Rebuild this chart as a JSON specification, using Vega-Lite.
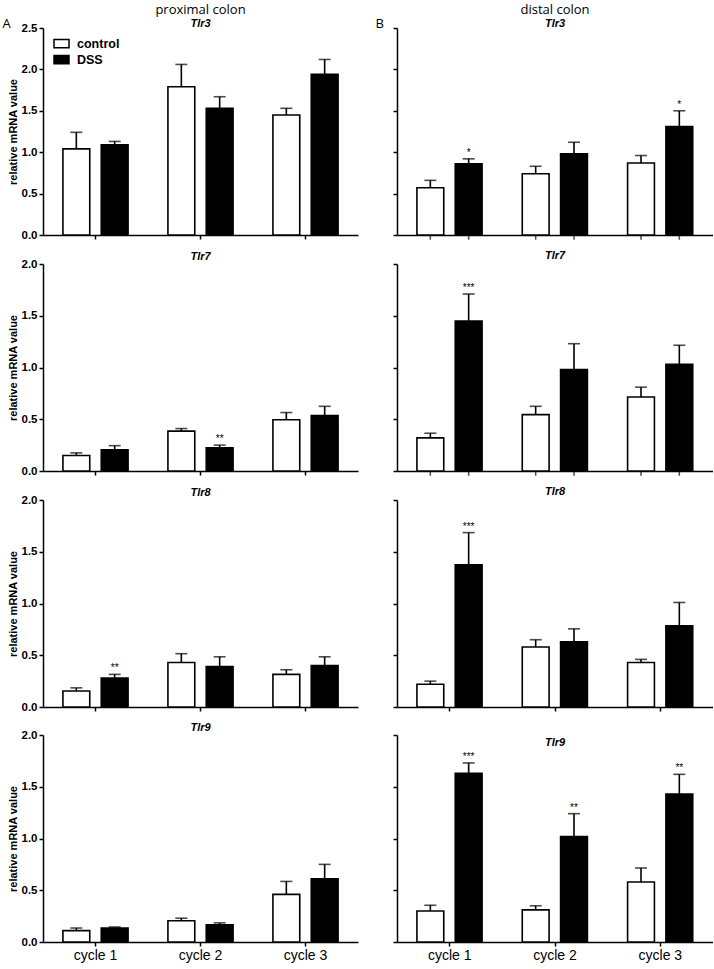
{
  "$schema": "https://vega.github.io/schema/vega-lite/v6.json",
  "padding": {"left": 2, "top": 4, "right": 0, "bottom": 4},
  "background": "white",
  "config": {
    "view": {"stroke": null},
    "axis": {"domainColor": "black", "tickColor": "black", "domainWidth": 1.5, "tickWidth": 1.5, "tickSize": 4, "labelColor": "black", "titleColor": "black", "grid": false},
    "title": {"color": "black", "subtitleColor": "black"}
  },
  "data": {"values": [
    {"region": "proximal", "gene": "Tlr3", "cycle": "cycle 1", "group": "control", "value": 1.04, "err": 1.24, "sig": ""},
    {"region": "proximal", "gene": "Tlr3", "cycle": "cycle 1", "group": "DSS", "value": 1.09, "err": 1.13, "sig": ""},
    {"region": "proximal", "gene": "Tlr3", "cycle": "cycle 2", "group": "control", "value": 1.79, "err": 2.06, "sig": ""},
    {"region": "proximal", "gene": "Tlr3", "cycle": "cycle 2", "group": "DSS", "value": 1.53, "err": 1.67, "sig": ""},
    {"region": "proximal", "gene": "Tlr3", "cycle": "cycle 3", "group": "control", "value": 1.45, "err": 1.53, "sig": ""},
    {"region": "proximal", "gene": "Tlr3", "cycle": "cycle 3", "group": "DSS", "value": 1.94, "err": 2.12, "sig": ""},
    {"region": "distal", "gene": "Tlr3", "cycle": "cycle 1", "group": "control", "value": 0.57, "err": 0.66, "sig": ""},
    {"region": "distal", "gene": "Tlr3", "cycle": "cycle 1", "group": "DSS", "value": 0.86, "err": 0.92, "sig": "*"},
    {"region": "distal", "gene": "Tlr3", "cycle": "cycle 2", "group": "control", "value": 0.74, "err": 0.83, "sig": ""},
    {"region": "distal", "gene": "Tlr3", "cycle": "cycle 2", "group": "DSS", "value": 0.98, "err": 1.12, "sig": ""},
    {"region": "distal", "gene": "Tlr3", "cycle": "cycle 3", "group": "control", "value": 0.87, "err": 0.96, "sig": ""},
    {"region": "distal", "gene": "Tlr3", "cycle": "cycle 3", "group": "DSS", "value": 1.31, "err": 1.5, "sig": "*"},
    {"region": "proximal", "gene": "Tlr7", "cycle": "cycle 1", "group": "control", "value": 0.15, "err": 0.175, "sig": ""},
    {"region": "proximal", "gene": "Tlr7", "cycle": "cycle 1", "group": "DSS", "value": 0.205, "err": 0.245, "sig": ""},
    {"region": "proximal", "gene": "Tlr7", "cycle": "cycle 2", "group": "control", "value": 0.385, "err": 0.41, "sig": ""},
    {"region": "proximal", "gene": "Tlr7", "cycle": "cycle 2", "group": "DSS", "value": 0.225, "err": 0.25, "sig": "**"},
    {"region": "proximal", "gene": "Tlr7", "cycle": "cycle 3", "group": "control", "value": 0.495, "err": 0.565, "sig": ""},
    {"region": "proximal", "gene": "Tlr7", "cycle": "cycle 3", "group": "DSS", "value": 0.535, "err": 0.625, "sig": ""},
    {"region": "distal", "gene": "Tlr7", "cycle": "cycle 1", "group": "control", "value": 0.32, "err": 0.365, "sig": ""},
    {"region": "distal", "gene": "Tlr7", "cycle": "cycle 1", "group": "DSS", "value": 1.45, "err": 1.71, "sig": "***"},
    {"region": "distal", "gene": "Tlr7", "cycle": "cycle 2", "group": "control", "value": 0.545, "err": 0.625, "sig": ""},
    {"region": "distal", "gene": "Tlr7", "cycle": "cycle 2", "group": "DSS", "value": 0.98, "err": 1.23, "sig": ""},
    {"region": "distal", "gene": "Tlr7", "cycle": "cycle 3", "group": "control", "value": 0.715, "err": 0.81, "sig": ""},
    {"region": "distal", "gene": "Tlr7", "cycle": "cycle 3", "group": "DSS", "value": 1.03, "err": 1.215, "sig": ""},
    {"region": "proximal", "gene": "Tlr8", "cycle": "cycle 1", "group": "control", "value": 0.155, "err": 0.185, "sig": ""},
    {"region": "proximal", "gene": "Tlr8", "cycle": "cycle 1", "group": "DSS", "value": 0.28, "err": 0.315, "sig": "**"},
    {"region": "proximal", "gene": "Tlr8", "cycle": "cycle 2", "group": "control", "value": 0.43, "err": 0.515, "sig": ""},
    {"region": "proximal", "gene": "Tlr8", "cycle": "cycle 2", "group": "DSS", "value": 0.39, "err": 0.485, "sig": ""},
    {"region": "proximal", "gene": "Tlr8", "cycle": "cycle 3", "group": "control", "value": 0.315, "err": 0.36, "sig": ""},
    {"region": "proximal", "gene": "Tlr8", "cycle": "cycle 3", "group": "DSS", "value": 0.4, "err": 0.485, "sig": ""},
    {"region": "distal", "gene": "Tlr8", "cycle": "cycle 1", "group": "control", "value": 0.22, "err": 0.25, "sig": ""},
    {"region": "distal", "gene": "Tlr8", "cycle": "cycle 1", "group": "DSS", "value": 1.375, "err": 1.685, "sig": "***"},
    {"region": "distal", "gene": "Tlr8", "cycle": "cycle 2", "group": "control", "value": 0.58, "err": 0.65, "sig": ""},
    {"region": "distal", "gene": "Tlr8", "cycle": "cycle 2", "group": "DSS", "value": 0.63, "err": 0.755, "sig": ""},
    {"region": "distal", "gene": "Tlr8", "cycle": "cycle 3", "group": "control", "value": 0.43, "err": 0.46, "sig": ""},
    {"region": "distal", "gene": "Tlr8", "cycle": "cycle 3", "group": "DSS", "value": 0.785, "err": 1.01, "sig": ""},
    {"region": "proximal", "gene": "Tlr9", "cycle": "cycle 1", "group": "control", "value": 0.11, "err": 0.135, "sig": ""},
    {"region": "proximal", "gene": "Tlr9", "cycle": "cycle 1", "group": "DSS", "value": 0.135, "err": 0.145, "sig": ""},
    {"region": "proximal", "gene": "Tlr9", "cycle": "cycle 2", "group": "control", "value": 0.205, "err": 0.23, "sig": ""},
    {"region": "proximal", "gene": "Tlr9", "cycle": "cycle 2", "group": "DSS", "value": 0.165, "err": 0.185, "sig": ""},
    {"region": "proximal", "gene": "Tlr9", "cycle": "cycle 3", "group": "control", "value": 0.46, "err": 0.585, "sig": ""},
    {"region": "proximal", "gene": "Tlr9", "cycle": "cycle 3", "group": "DSS", "value": 0.61, "err": 0.75, "sig": ""},
    {"region": "distal", "gene": "Tlr9", "cycle": "cycle 1", "group": "control", "value": 0.3, "err": 0.355, "sig": ""},
    {"region": "distal", "gene": "Tlr9", "cycle": "cycle 1", "group": "DSS", "value": 1.63, "err": 1.73, "sig": "***"},
    {"region": "distal", "gene": "Tlr9", "cycle": "cycle 2", "group": "control", "value": 0.31, "err": 0.35, "sig": ""},
    {"region": "distal", "gene": "Tlr9", "cycle": "cycle 2", "group": "DSS", "value": 1.02, "err": 1.24, "sig": "**"},
    {"region": "distal", "gene": "Tlr9", "cycle": "cycle 3", "group": "control", "value": 0.58, "err": 0.715, "sig": ""},
    {"region": "distal", "gene": "Tlr9", "cycle": "cycle 3", "group": "DSS", "value": 1.43, "err": 1.62, "sig": "**"}
  ]},
  "resolve": {"scale": {"fill": "independent"}, "legend": {"fill": "independent"}},
  "columns": 2,
  "spacing": {"row": 9, "column": 17},
  "concat": [
    {
      "width": 315, "height": 207,
      "title": {"text": "proximal colon", "subtitle": "Tlr3", "frame": "group", "anchor": "middle", "font": "Open Sans", "fontSize": 13, "fontWeight": "normal", "subtitleFont": "Liberation Sans", "subtitleFontStyle": "italic", "subtitleFontWeight": "bold", "subtitleFontSize": 11, "subtitlePadding": 1, "offset": -12},
      "transform": [{"filter": "datum.region === 'proximal' && datum.gene === 'Tlr3'"}],
      "encoding": {
        "x": {"field": "cycle", "type": "nominal", "scale": {"paddingInner": 0, "paddingOuter": 0}, "axis": {"title": "A", "labels": false, "titleX": -41, "titleY": -208, "titleAlign": "left", "titleBaseline": "alphabetic", "titleAngle": 0, "titleFont": "Open Sans", "titleFontSize": 13, "titleFontWeight": "normal"}},
        "xOffset": {"field": "group", "type": "nominal", "sort": ["control", "DSS"], "scale": {"paddingInner": 0.3, "paddingOuter": 0.52}}
      },
      "layer": [
        {"mark": {"type": "bar", "stroke": "black", "strokeWidth": 1.6},
         "encoding": {
           "y": {"field": "value", "type": "quantitative", "title": "relative mRNA value", "scale": {"domain": [0, 2.5], "nice": false}, "axis": {"values": [0, 0.5, 1, 1.5, 2, 2.5], "format": ".1f", "labelFont": "Liberation Sans", "labelFontWeight": "bold", "labelFontSize": 11.5, "titleFont": "Liberation Sans", "titleFontWeight": "bold", "titleFontSize": 11, "titlePadding": 3, "labelPadding": 2}},
           "fill": {"field": "group", "type": "nominal", "scale": {"domain": ["control", "DSS"], "range": ["white", "black"]}, "legend": {"orient": "none", "legendX": 10, "legendY": 7, "title": null, "symbolType": "M-1,-0.55H1V0.55H-1Z", "symbolSize": 225, "symbolStrokeColor": "black", "symbolStrokeWidth": 1.5, "labelFont": "Liberation Sans", "labelFontWeight": "bold", "labelFontSize": 12.5, "labelColor": "black", "rowPadding": 0, "labelOffset": 7}}
         }},
        {"mark": {"type": "rule", "color": "black", "strokeWidth": 1.6}, "encoding": {"y": {"field": "value", "type": "quantitative", "title": "relative mRNA value"}, "y2": {"field": "err"}}},
        {"mark": {"type": "tick", "color": "black", "thickness": 1.6, "size": 12, "orient": "horizontal"}, "encoding": {"y": {"field": "err", "type": "quantitative", "title": "relative mRNA value"}}},
        {"mark": {"type": "text", "dy": -3, "fontSize": 10, "baseline": "alphabetic", "font": "Liberation Sans", "color": "black"}, "encoding": {"y": {"field": "err", "type": "quantitative", "title": "relative mRNA value"}, "text": {"field": "sig"}}}
      ]
    },
    {
      "width": 316, "height": 207,
      "title": {"text": "distal colon", "subtitle": "Tlr3", "frame": "group", "anchor": "middle", "font": "Open Sans", "fontSize": 13, "fontWeight": "normal", "subtitleFont": "Liberation Sans", "subtitleFontStyle": "italic", "subtitleFontWeight": "bold", "subtitleFontSize": 11, "subtitlePadding": 1, "offset": -12},
      "transform": [{"filter": "datum.region === 'distal' && datum.gene === 'Tlr3'"}],
      "encoding": {
        "x": {"field": "cycle", "type": "nominal", "scale": {"paddingInner": 0, "paddingOuter": 0}, "axis": {"title": "B", "labels": false, "ticks": false, "titleX": -22, "titleY": -208, "titleAlign": "left", "titleBaseline": "alphabetic", "titleAngle": 0, "titleFont": "Open Sans", "titleFontSize": 13, "titleFontWeight": "normal"}},
        "xOffset": {"field": "group", "type": "nominal", "sort": ["control", "DSS"], "scale": {"paddingInner": 0.32, "paddingOuter": 0.5}}
      },
      "layer": [
        {"mark": {"type": "bar", "stroke": "black", "strokeWidth": 1.6},
         "encoding": {
           "y": {"field": "value", "type": "quantitative", "title": null, "scale": {"domain": [0, 2.5], "nice": false}, "axis": {"values": [0, 0.5, 1, 1.5, 2, 2.5], "labels": false, "title": null}},
           "fill": {"field": "group", "type": "nominal", "scale": {"domain": ["control", "DSS"], "range": ["white", "black"]}, "legend": null}
         }},
        {"mark": {"type": "rule", "color": "black", "strokeWidth": 1.6}, "encoding": {"y": {"field": "value", "type": "quantitative", "title": null}, "y2": {"field": "err"}}},
        {"mark": {"type": "tick", "color": "black", "thickness": 1.6, "size": 12, "orient": "horizontal"}, "encoding": {"y": {"field": "err", "type": "quantitative", "title": null}}},
        {"mark": {"type": "tick", "color": "black", "thickness": 1.5, "size": 4, "orient": "vertical", "yOffset": 2.75}, "encoding": {"y": {"datum": 0, "type": "quantitative", "title": null}}},
        {"mark": {"type": "text", "dy": -3, "fontSize": 10, "baseline": "alphabetic", "font": "Liberation Sans", "color": "black"}, "encoding": {"y": {"field": "err", "type": "quantitative", "title": null}, "text": {"field": "sig"}}}
      ]
    },
    {
      "width": 315, "height": 207,
      "title": {"text": "Tlr7", "frame": "group", "anchor": "middle", "font": "Liberation Sans", "fontStyle": "italic", "fontWeight": "bold", "fontSize": 11, "offset": -4},
      "transform": [{"filter": "datum.region === 'proximal' && datum.gene === 'Tlr7'"}],
      "encoding": {
        "x": {"field": "cycle", "type": "nominal", "scale": {"paddingInner": 0, "paddingOuter": 0}, "axis": {"title": null, "labels": false}},
        "xOffset": {"field": "group", "type": "nominal", "sort": ["control", "DSS"], "scale": {"paddingInner": 0.3, "paddingOuter": 0.52}}
      },
      "layer": [
        {"mark": {"type": "bar", "stroke": "black", "strokeWidth": 1.6},
         "encoding": {
           "y": {"field": "value", "type": "quantitative", "title": "relative mRNA value", "scale": {"domain": [0, 2], "nice": false}, "axis": {"values": [0, 0.5, 1, 1.5, 2], "format": ".1f", "labelFont": "Liberation Sans", "labelFontWeight": "bold", "labelFontSize": 11.5, "titleFont": "Liberation Sans", "titleFontWeight": "bold", "titleFontSize": 11, "titlePadding": 3, "labelPadding": 2}},
           "fill": {"field": "group", "type": "nominal", "scale": {"domain": ["control", "DSS"], "range": ["white", "black"]}, "legend": null}
         }},
        {"mark": {"type": "rule", "color": "black", "strokeWidth": 1.6}, "encoding": {"y": {"field": "value", "type": "quantitative", "title": "relative mRNA value"}, "y2": {"field": "err"}}},
        {"mark": {"type": "tick", "color": "black", "thickness": 1.6, "size": 12, "orient": "horizontal"}, "encoding": {"y": {"field": "err", "type": "quantitative", "title": "relative mRNA value"}}},
        {"mark": {"type": "text", "dy": -3, "fontSize": 10, "baseline": "alphabetic", "font": "Liberation Sans", "color": "black"}, "encoding": {"y": {"field": "err", "type": "quantitative", "title": "relative mRNA value"}, "text": {"field": "sig"}}}
      ]
    },
    {
      "width": 316, "height": 207,
      "title": {"text": "Tlr7", "frame": "group", "anchor": "middle", "font": "Liberation Sans", "fontStyle": "italic", "fontWeight": "bold", "fontSize": 11, "offset": 2},
      "transform": [{"filter": "datum.region === 'distal' && datum.gene === 'Tlr7'"}],
      "encoding": {
        "x": {"field": "cycle", "type": "nominal", "scale": {"paddingInner": 0, "paddingOuter": 0}, "axis": {"title": null, "labels": false, "ticks": false}},
        "xOffset": {"field": "group", "type": "nominal", "sort": ["control", "DSS"], "scale": {"paddingInner": 0.32, "paddingOuter": 0.5}}
      },
      "layer": [
        {"mark": {"type": "bar", "stroke": "black", "strokeWidth": 1.6},
         "encoding": {
           "y": {"field": "value", "type": "quantitative", "title": null, "scale": {"domain": [0, 2], "nice": false}, "axis": {"values": [0, 0.5, 1, 1.5, 2], "labels": false, "title": null}},
           "fill": {"field": "group", "type": "nominal", "scale": {"domain": ["control", "DSS"], "range": ["white", "black"]}, "legend": null}
         }},
        {"mark": {"type": "rule", "color": "black", "strokeWidth": 1.6}, "encoding": {"y": {"field": "value", "type": "quantitative", "title": null}, "y2": {"field": "err"}}},
        {"mark": {"type": "tick", "color": "black", "thickness": 1.6, "size": 12, "orient": "horizontal"}, "encoding": {"y": {"field": "err", "type": "quantitative", "title": null}}},
        {"mark": {"type": "tick", "color": "black", "thickness": 1.5, "size": 4, "orient": "vertical", "yOffset": 2.75}, "encoding": {"y": {"datum": 0, "type": "quantitative", "title": null}}},
        {"mark": {"type": "text", "dy": -3, "fontSize": 10, "baseline": "alphabetic", "font": "Liberation Sans", "color": "black"}, "encoding": {"y": {"field": "err", "type": "quantitative", "title": null}, "text": {"field": "sig"}}}
      ]
    },
    {
      "width": 315, "height": 207,
      "title": {"text": "Tlr8", "frame": "group", "anchor": "middle", "font": "Liberation Sans", "fontStyle": "italic", "fontWeight": "bold", "fontSize": 11, "offset": -4},
      "transform": [{"filter": "datum.region === 'proximal' && datum.gene === 'Tlr8'"}],
      "encoding": {
        "x": {"field": "cycle", "type": "nominal", "scale": {"paddingInner": 0, "paddingOuter": 0}, "axis": {"title": null, "labels": false}},
        "xOffset": {"field": "group", "type": "nominal", "sort": ["control", "DSS"], "scale": {"paddingInner": 0.3, "paddingOuter": 0.52}}
      },
      "layer": [
        {"mark": {"type": "bar", "stroke": "black", "strokeWidth": 1.6},
         "encoding": {
           "y": {"field": "value", "type": "quantitative", "title": "relative mRNA value", "scale": {"domain": [0, 2], "nice": false}, "axis": {"values": [0, 0.5, 1, 1.5, 2], "format": ".1f", "labelFont": "Liberation Sans", "labelFontWeight": "bold", "labelFontSize": 11.5, "titleFont": "Liberation Sans", "titleFontWeight": "bold", "titleFontSize": 11, "titlePadding": 3, "labelPadding": 2}},
           "fill": {"field": "group", "type": "nominal", "scale": {"domain": ["control", "DSS"], "range": ["white", "black"]}, "legend": null}
         }},
        {"mark": {"type": "rule", "color": "black", "strokeWidth": 1.6}, "encoding": {"y": {"field": "value", "type": "quantitative", "title": "relative mRNA value"}, "y2": {"field": "err"}}},
        {"mark": {"type": "tick", "color": "black", "thickness": 1.6, "size": 12, "orient": "horizontal"}, "encoding": {"y": {"field": "err", "type": "quantitative", "title": "relative mRNA value"}}},
        {"mark": {"type": "text", "dy": -3, "fontSize": 10, "baseline": "alphabetic", "font": "Liberation Sans", "color": "black"}, "encoding": {"y": {"field": "err", "type": "quantitative", "title": "relative mRNA value"}, "text": {"field": "sig"}}}
      ]
    },
    {
      "width": 316, "height": 207,
      "title": {"text": "Tlr8", "frame": "group", "anchor": "middle", "font": "Liberation Sans", "fontStyle": "italic", "fontWeight": "bold", "fontSize": 11, "offset": 2},
      "transform": [{"filter": "datum.region === 'distal' && datum.gene === 'Tlr8'"}],
      "encoding": {
        "x": {"field": "cycle", "type": "nominal", "scale": {"paddingInner": 0, "paddingOuter": 0}, "axis": {"title": null, "labels": false}},
        "xOffset": {"field": "group", "type": "nominal", "sort": ["control", "DSS"], "scale": {"paddingInner": 0.32, "paddingOuter": 0.5}}
      },
      "layer": [
        {"mark": {"type": "bar", "stroke": "black", "strokeWidth": 1.6},
         "encoding": {
           "y": {"field": "value", "type": "quantitative", "title": null, "scale": {"domain": [0, 2], "nice": false}, "axis": {"values": [0, 0.5, 1, 1.5, 2], "labels": false, "title": null}},
           "fill": {"field": "group", "type": "nominal", "scale": {"domain": ["control", "DSS"], "range": ["white", "black"]}, "legend": null}
         }},
        {"mark": {"type": "rule", "color": "black", "strokeWidth": 1.6}, "encoding": {"y": {"field": "value", "type": "quantitative", "title": null}, "y2": {"field": "err"}}},
        {"mark": {"type": "tick", "color": "black", "thickness": 1.6, "size": 12, "orient": "horizontal"}, "encoding": {"y": {"field": "err", "type": "quantitative", "title": null}}},
        {"mark": {"type": "text", "dy": -3, "fontSize": 10, "baseline": "alphabetic", "font": "Liberation Sans", "color": "black"}, "encoding": {"y": {"field": "err", "type": "quantitative", "title": null}, "text": {"field": "sig"}}}
      ]
    },
    {
      "width": 315, "height": 207,
      "title": {"text": "Tlr9", "frame": "group", "anchor": "middle", "font": "Liberation Sans", "fontStyle": "italic", "fontWeight": "bold", "fontSize": 11, "offset": -4},
      "transform": [{"filter": "datum.region === 'proximal' && datum.gene === 'Tlr9'"}],
      "encoding": {
        "x": {"field": "cycle", "type": "nominal", "scale": {"paddingInner": 0, "paddingOuter": 0}, "axis": {"title": null, "labelAngle": 0, "labelFont": "Liberation Sans", "labelFontSize": 14, "labelPadding": 2}},
        "xOffset": {"field": "group", "type": "nominal", "sort": ["control", "DSS"], "scale": {"paddingInner": 0.3, "paddingOuter": 0.52}}
      },
      "layer": [
        {"mark": {"type": "bar", "stroke": "black", "strokeWidth": 1.6},
         "encoding": {
           "y": {"field": "value", "type": "quantitative", "title": "relative mRNA value", "scale": {"domain": [0, 2], "nice": false}, "axis": {"values": [0, 0.5, 1, 1.5, 2], "format": ".1f", "labelFont": "Liberation Sans", "labelFontWeight": "bold", "labelFontSize": 11.5, "titleFont": "Liberation Sans", "titleFontWeight": "bold", "titleFontSize": 11, "titlePadding": 3, "labelPadding": 2}},
           "fill": {"field": "group", "type": "nominal", "scale": {"domain": ["control", "DSS"], "range": ["white", "black"]}, "legend": null}
         }},
        {"mark": {"type": "rule", "color": "black", "strokeWidth": 1.6}, "encoding": {"y": {"field": "value", "type": "quantitative", "title": "relative mRNA value"}, "y2": {"field": "err"}}},
        {"mark": {"type": "tick", "color": "black", "thickness": 1.6, "size": 12, "orient": "horizontal"}, "encoding": {"y": {"field": "err", "type": "quantitative", "title": "relative mRNA value"}}},
        {"mark": {"type": "text", "dy": -3, "fontSize": 10, "baseline": "alphabetic", "font": "Liberation Sans", "color": "black"}, "encoding": {"y": {"field": "err", "type": "quantitative", "title": "relative mRNA value"}, "text": {"field": "sig"}}}
      ]
    },
    {
      "width": 316, "height": 207,
      "title": {"text": "Tlr9", "frame": "group", "anchor": "middle", "font": "Liberation Sans", "fontStyle": "italic", "fontWeight": "bold", "fontSize": 11, "offset": -14},
      "transform": [{"filter": "datum.region === 'distal' && datum.gene === 'Tlr9'"}],
      "encoding": {
        "x": {"field": "cycle", "type": "nominal", "scale": {"paddingInner": 0, "paddingOuter": 0}, "axis": {"title": null, "labelAngle": 0, "labelFont": "Liberation Sans", "labelFontSize": 14, "labelPadding": 2}},
        "xOffset": {"field": "group", "type": "nominal", "sort": ["control", "DSS"], "scale": {"paddingInner": 0.32, "paddingOuter": 0.5}}
      },
      "layer": [
        {"mark": {"type": "bar", "stroke": "black", "strokeWidth": 1.6},
         "encoding": {
           "y": {"field": "value", "type": "quantitative", "title": null, "scale": {"domain": [0, 2], "nice": false}, "axis": {"values": [0, 0.5, 1, 1.5, 2], "labels": false, "title": null}},
           "fill": {"field": "group", "type": "nominal", "scale": {"domain": ["control", "DSS"], "range": ["white", "black"]}, "legend": null}
         }},
        {"mark": {"type": "rule", "color": "black", "strokeWidth": 1.6}, "encoding": {"y": {"field": "value", "type": "quantitative", "title": null}, "y2": {"field": "err"}}},
        {"mark": {"type": "tick", "color": "black", "thickness": 1.6, "size": 12, "orient": "horizontal"}, "encoding": {"y": {"field": "err", "type": "quantitative", "title": null}}},
        {"mark": {"type": "text", "dy": -3, "fontSize": 10, "baseline": "alphabetic", "font": "Liberation Sans", "color": "black"}, "encoding": {"y": {"field": "err", "type": "quantitative", "title": null}, "text": {"field": "sig"}}}
      ]
    }
  ]
}
